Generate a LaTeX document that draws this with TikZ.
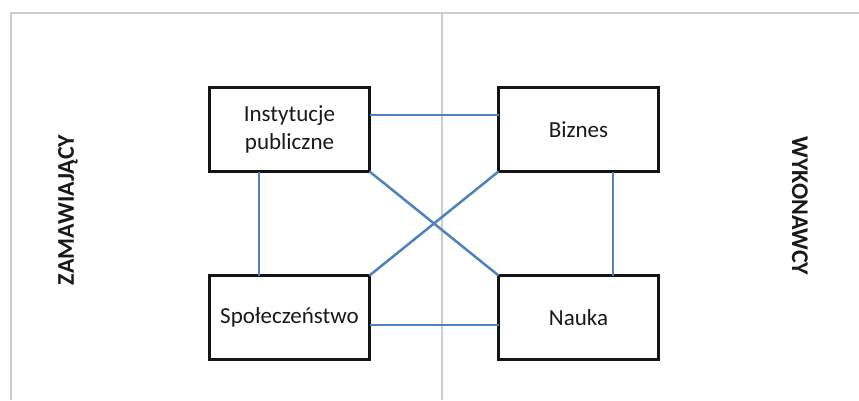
\documentclass[tikz,border=0pt]{standalone}
\usepackage{fontspec}
\setmainfont{Carlito}
\definecolor{framegray}{RGB}{205,205,205}
\definecolor{linkblue}{RGB}{79,129,189}
\definecolor{boxline}{RGB}{20,20,20}
\definecolor{txt}{RGB}{25,25,25}
\tikzset{
  box/.style={draw=boxline, line width=3pt, fill=white, minimum width=160pt, minimum height=84pt,
    inner sep=0pt, outer sep=0pt, align=center, text=txt, font=\fontsize{23}{28}\selectfont},
  link/.style={draw=linkblue, line width=2.5pt},
  frameline/.style={draw=framegray, line width=2.3pt},
  side/.style={text=txt, font=\fontsize{24}{28}\selectfont\bfseries, inner sep=0pt}
}
\begin{document}
\begin{tikzpicture}[x=1pt,y=1pt]
\useasboundingbox (0,0) rectangle (859,400);
\coordinate (ftl) at (11,387);
\coordinate (fbl) at (11,0);
\coordinate (ftr) at (859,387);
\coordinate (dtop) at (442,387);
\coordinate (dbot) at (442,0);
\draw[frameline] (fbl) -- (ftl) -- (ftr);
\draw[frameline] (dtop) -- (dbot);

\node[box] (inst) at (289.5,270.5) {Instytucje\\publiczne};
\node[box] (biz) at (578.5,270.5) {Biznes};
\node[box] (spol) at (289.5,82.5) {Społeczeństwo};
\node[box] (nauka) at (578.5,82.5) {Nauka};

\draw[link] ([yshift=14.5pt]inst.east) -- ([yshift=14.5pt]biz.west);
\draw[link] ([yshift=-7.5pt]spol.east) -- ([yshift=-7.5pt]nauka.west);
\draw[link] ([xshift=-30.5pt]inst.south) -- ([xshift=-30.5pt]spol.north);
\draw[link] ([xshift=34.5pt]biz.south) -- ([xshift=34.5pt]nauka.north);
\draw[link] (inst.south east) -- (nauka.north west);
\draw[link] (biz.south west) -- (spol.north east);

\node[side, rotate=90] (zam) at (68,190) {ZAMAWIAJĄCY};
\node[side, rotate=-90] (wyk) at (800,194) {WYKONAWCY};
\end{tikzpicture}
\end{document}
